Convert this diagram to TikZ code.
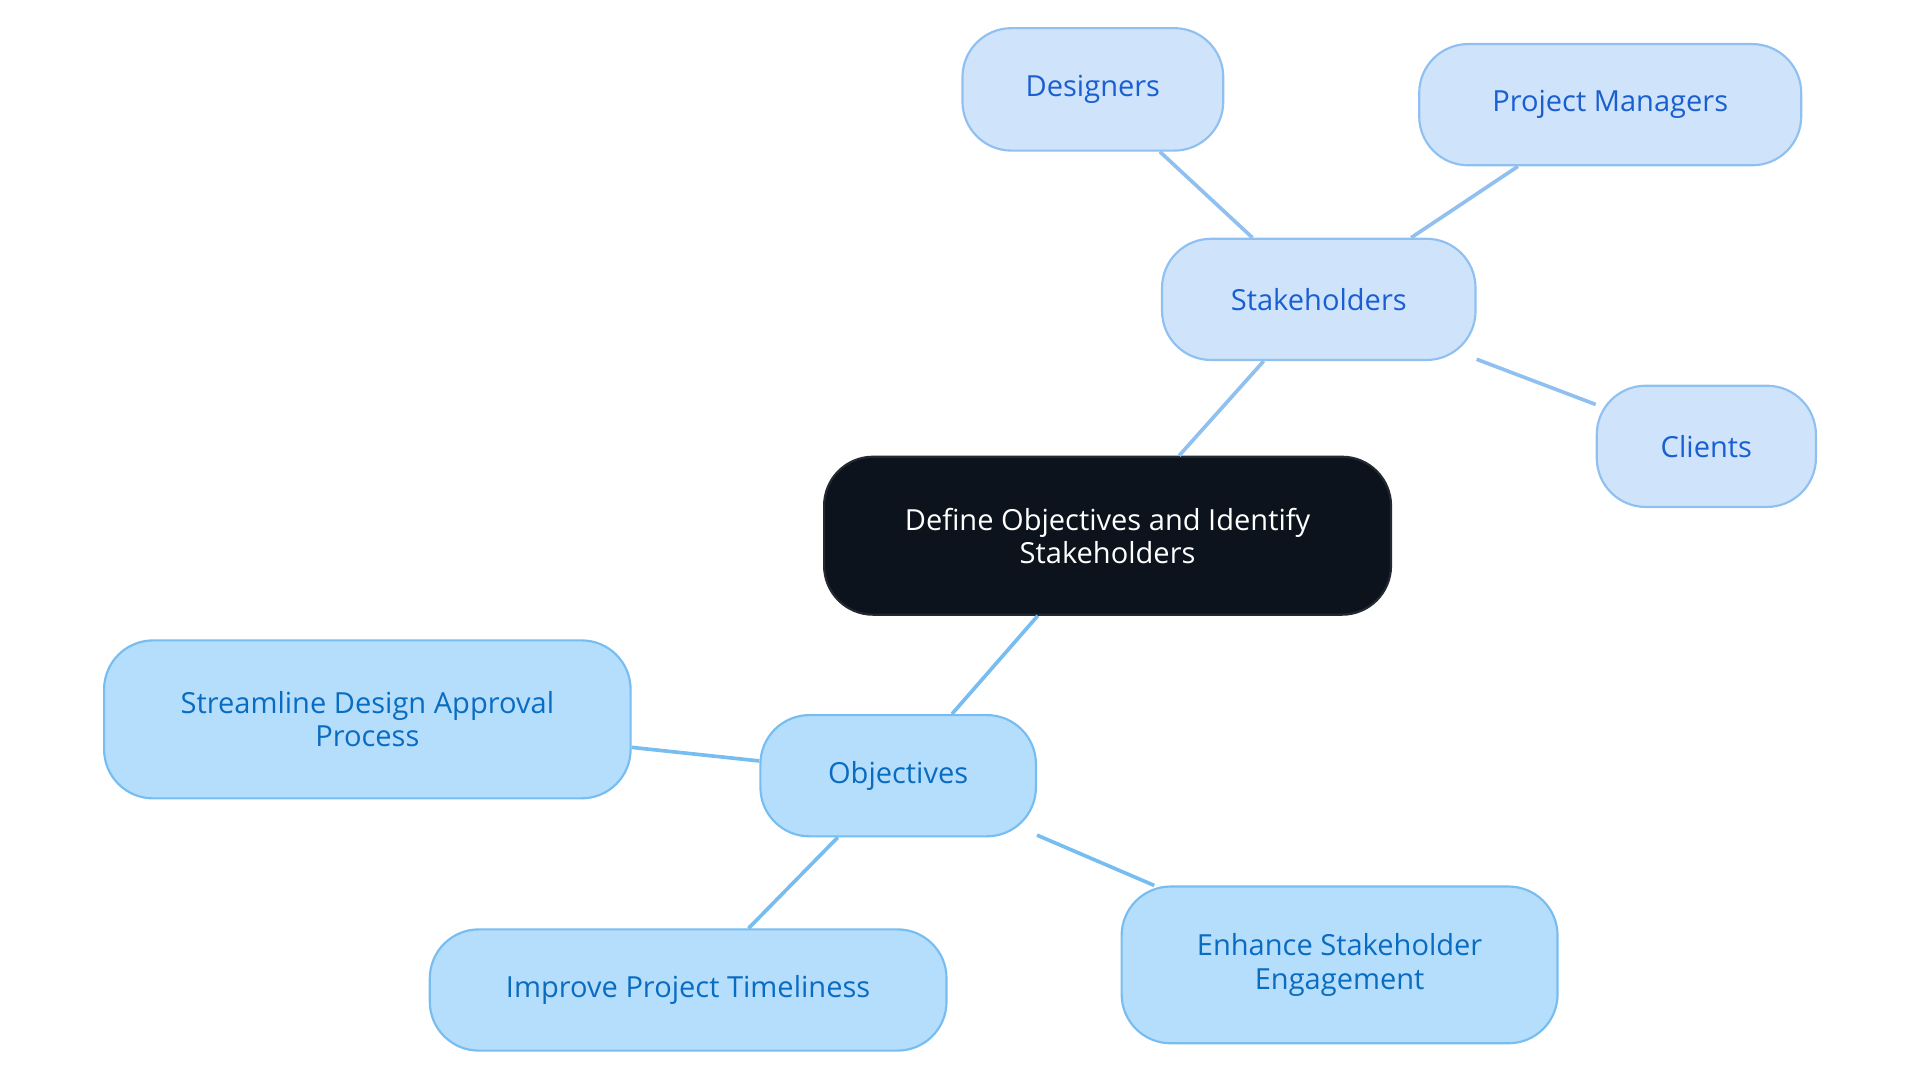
\documentclass[tikz,border=0pt]{standalone}
\usepackage{fontspec}
\setmainfont{Open Sans}
\definecolor{cfill}{HTML}{0C131D}
\definecolor{sfill}{HTML}{CFE3FB}
\definecolor{sdraw}{HTML}{90C0F0}
\definecolor{stext}{HTML}{1A5FD0}
\definecolor{ofill}{HTML}{B5DEFD}
\definecolor{odraw}{HTML}{78BDF0}
\definecolor{otext}{HTML}{0A6CC0}
\begin{document}
\begin{tikzpicture}[x=0.02cm,y=-0.02cm,
  base/.style={rounded corners=0.8cm,line width=1pt,align=center,inner sep=0pt,font=\fontsize{13.5}{15.5}\selectfont},
  ctr/.style={base,fill=cfill,draw=cfill!80!gray,text=white},
  sbox/.style={base,fill=sfill,draw=sdraw,text=stext},
  obox/.style={base,fill=ofill,draw=odraw,text=otext},
  sedge/.style={draw=sdraw,line width=1.7pt},
  oedge/.style={draw=odraw,line width=1.7pt}]
\useasboundingbox (0,0) rectangle (1568,884);
\node[ctr,minimum width=463*0.02cm,minimum height=129*0.02cm] (c) at (904.5,437.5) {Define Objectives and Identify\\Stakeholders};
\node[sbox,minimum width=256*0.02cm,minimum height=99*0.02cm] (s) at (1077,244.5) {Stakeholders};
\node[sbox,minimum width=213*0.02cm,minimum height=100*0.02cm] (d) at (892.5,73) {Designers};
\node[sbox,minimum width=312*0.02cm,minimum height=99*0.02cm] (pm) at (1315,85.5) {Project Managers};
\node[sbox,minimum width=179*0.02cm,minimum height=99*0.02cm] (cl) at (1393.5,364.5) {Clients};
\node[obox,minimum width=225*0.02cm,minimum height=99*0.02cm] (o) at (733.5,633.5) {Objectives};
\node[obox,minimum width=430*0.02cm,minimum height=129*0.02cm] (st) at (300,587.5) {Streamline Design Approval\\Process};
\node[obox,minimum width=422*0.02cm,minimum height=99*0.02cm] (im) at (562,808.5) {Improve Project Timeliness};
\node[obox,minimum width=356*0.02cm,minimum height=128*0.02cm] (en) at (1094,788) {Enhance Stakeholder\\Engagement};
\draw[sedge] (c) -- (s);
\draw[sedge] (s) -- (d);
\draw[sedge] (s) -- (pm);
\draw[sedge] (s) -- (cl);
\draw[oedge] (c) -- (o);
\draw[oedge] (o) -- (st);
\draw[oedge] (o) -- (im);
\draw[oedge] (o) -- (en);
\end{tikzpicture}
\end{document}
